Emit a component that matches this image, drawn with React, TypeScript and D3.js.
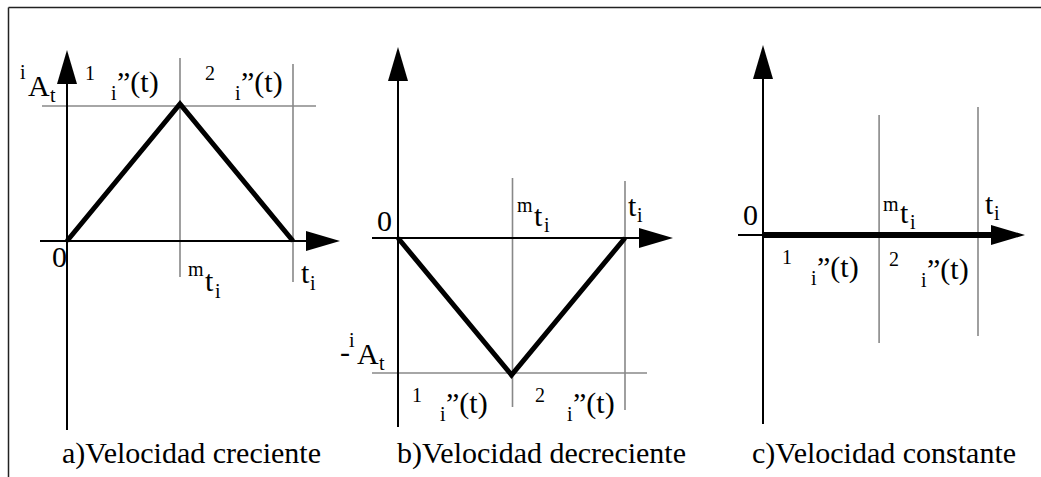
import React from "react";
import * as d3 from "d3";

// ---- data ----
const panelIds = ["a", "b", "c"];
const titles = ["a)Velocidad creciente", "b)Velocidad decreciente", "c)Velocidad constante"];
// acceleration profile values at t = 0, tm, ti (normalised)
const profileA = [0, 1, 0];
const profileB = [0, -1, 0];
const profileC = [0, 0, 0];
const profiles = [profileA, profileB, profileC];
// time knots (fraction of ti) for each panel: 0, tm, ti
const knotsA = [0, 0.5, 1];
const knotsB = [0, 0.5, 1];
const knotsC = [0, 0.54, 1];
const knots = [knotsA, knotsB, knotsC];
const segLabels = ["1", "2"];

// ---- layout ----
type Layout = {
  x0: number; x1: number; y0: number; y1: number;
  axTop: number; axBottom: number; axLeft: number; axRight: number;
  title: [number, number];
};
const layouts: Layout[] = [
  { x0: 67, x1: 293, y0: 241, y1: 104, axTop: 50, axBottom: 430, axLeft: 40, axRight: 340, title: [62, 463] },
  { x0: 398, x1: 625, y0: 238, y1: 101, axTop: 47, axBottom: 427, axLeft: 372, axRight: 673, title: [397, 463] },
  { x0: 763, x1: 978, y0: 235, y1: 98, axTop: 45, axBottom: 424, axLeft: 738, axRight: 1025, title: [752, 463] },
];

const FONT = "Liberation Serif, Tinos, Times New Roman, DejaVu Serif, serif";
const GRAY = "#888";

function Arrow({ dir, x, y }: { dir: "up" | "right"; x: number; y: number }) {
  const L = 34, H = 10;
  const pts = dir === "up"
    ? [[x, y], [x - H, y + L], [x + H, y + L]]
    : [[x, y], [x - L, y - H], [x - L, y + H]];
  return <polygon points={pts.map((p) => p.join(",")).join(" ")} fill="#000" />;
}

function T({ x, y, s = 30, children }: { x: number; y: number; s?: number; children: React.ReactNode }) {
  return (
    <text x={x} y={y} style={{ fontFamily: FONT, fontSize: s }} fill="#000">
      {children}
    </text>
  );
}

function Panel({ idx }: { idx: number }) {
  const L = layouts[idx];
  const xs = d3.scaleLinear().domain([0, 1]).range([L.x0, L.x1]);
  const ys = d3.scaleLinear().domain([0, 1]).range([L.y0, L.y1]);
  const prof = profiles[idx];
  const kn = knots[idx];
  const pts: [number, number][] = kn.map((k, i) => [xs(k), ys(prof[i])]);
  const line = d3.line();
  const xm = xs(kn[1]);
  const xe = xs(kn[2]);
  const peak = ys(prof[1]);

  const grayV: [number, number, number][] = [];
  let grayH: [number, number, number] | null = null;
  if (idx === 0) {
    grayV.push([xm, 58, 277], [xe, 64, 282]);
    grayH = [peak + 2, 42, 316];
  } else if (idx === 1) {
    grayV.push([xm + 1, 178, 407], [xe, 181, 410]);
    grayH = [peak - 2, 372, 647];
  } else {
    grayV.push([xm, 115, 343], [xe, 107, 336]);
  }

  return (
    <g>
      {grayV.map(([x, a, b], i) => (
        <line key={"v" + i} x1={x} x2={x} y1={a} y2={b} stroke={GRAY} strokeWidth={1.6} />
      ))}
      {grayH && <line x1={grayH[1]} x2={grayH[2]} y1={grayH[0]} y2={grayH[0]} stroke={GRAY} strokeWidth={1.6} />}
      <line x1={L.x0} x2={L.x0} y1={L.axTop + 20} y2={L.axBottom} stroke="#000" strokeWidth={2} />
      <line x1={L.axLeft} x2={L.axRight - 20} y1={L.y0} y2={L.y0} stroke="#000" strokeWidth={2} />
      <Arrow dir="up" x={L.x0} y={L.axTop} />
      <Arrow dir="right" x={L.axRight} y={L.y0} />
      {idx < 2 ? (
        <path d={line(pts) || ""} fill="none" stroke="#000" strokeWidth={5} strokeLinejoin="miter" />
      ) : (
        <line x1={L.x0} x2={L.axRight - 34} y1={L.y0} y2={L.y0} stroke="#000" strokeWidth={6} />
      )}
      <T x={L.title[0]} y={L.title[1]}>{titles[idx]}</T>
    </g>
  );
}

export default function App() {
  return (
    <svg width={1041} height={477} style={{ position: "absolute", left: 0, top: 0, display: "block", background: "#fff" }}>
      <rect x={0} y={0} width={1041} height={477} fill="#fff" />
      <line x1={8.5} x2={1041} y1={7.5} y2={7.5} stroke="#222" strokeWidth={1.5} />
      <line x1={8.5} x2={8.5} y1={7.5} y2={477} stroke="#222" strokeWidth={1.5} />
      {panelIds.map((p, i) => (
        <Panel key={p} idx={i} />
      ))}

      {/* panel a labels */}
      <T x={20} y={79} s={20}>i</T>
      <T x={28} y={96}>A</T>
      <T x={50} y={102} s={20}>t</T>
      <T x={85} y={80} s={20}>{segLabels[0]}</T>
      <T x={111} y={100} s={20}>i</T>
      <T x={117} y={92}>”(t)</T>
      <T x={205} y={80} s={20}>{segLabels[1]}</T>
      <T x={235} y={100} s={20}>i</T>
      <T x={241} y={92}>”(t)</T>
      <T x={52} y={267}>0</T>
      <T x={188} y={276} s={20}>m</T>
      <T x={205} y={291}>t</T>
      <T x={215} y={298} s={20}>i</T>
      <T x={301} y={283}>t</T>
      <T x={310} y={290} s={20}>i</T>

      {/* panel b labels */}
      <T x={377} y={231}>0</T>
      <T x={517} y={212} s={20}>m</T>
      <T x={534} y={226}>t</T>
      <T x={544} y={232} s={20}>i</T>
      <T x={628} y={216}>t</T>
      <T x={637} y={222} s={20}>i</T>
      <T x={340} y={362}>-</T>
      <T x={349} y={347} s={20}>i</T>
      <T x={357} y={364}>A</T>
      <T x={379} y={370} s={20}>t</T>
      <T x={412} y={402} s={20}>{segLabels[0]}</T>
      <T x={440} y={421} s={20}>i</T>
      <T x={446} y={413}>”(t)</T>
      <T x={535} y={402} s={20}>{segLabels[1]}</T>
      <T x={567} y={421} s={20}>i</T>
      <T x={573} y={413}>”(t)</T>

      {/* panel c labels */}
      <T x={743} y={225}>0</T>
      <T x={883} y={211} s={20}>m</T>
      <T x={900} y={223}>t</T>
      <T x={910} y={229} s={20}>i</T>
      <T x={985} y={214}>t</T>
      <T x={994} y={220} s={20}>i</T>
      <T x={782} y={264} s={20}>{segLabels[0]}</T>
      <T x={811} y={285} s={20}>i</T>
      <T x={817} y={277}>”(t)</T>
      <T x={889} y={266} s={20}>{segLabels[1]}</T>
      <T x={921} y={287} s={20}>i</T>
      <T x={927} y={279}>”(t)</T>
    </svg>
  );
}
